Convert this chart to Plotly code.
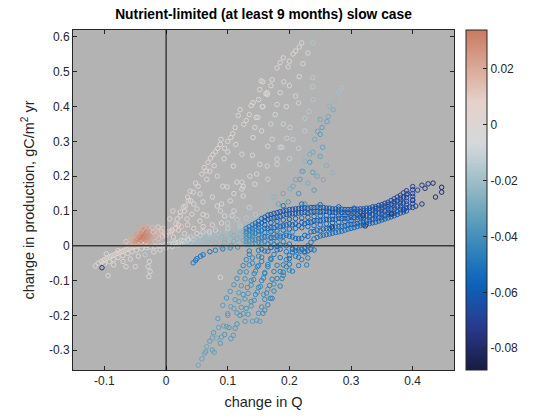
import plotly.graph_objects as go
import plotly.colors as pc
from plotly.colors import cmocean

# ---- data ----
# white band running into the origin from the lower left
white_x = [-0.110, -0.105, -0.100, -0.096, -0.092, -0.088, -0.084, -0.080, -0.076, -0.072,
           -0.068, -0.064, -0.060, -0.056, -0.052, -0.048, -0.044, -0.040, -0.036, -0.032,
           -0.100, -0.092, -0.085, -0.078, -0.070, -0.062, -0.055, -0.048, -0.040, -0.032,
           -0.025, -0.018, -0.010, -0.003, 0.004, 0.012, 0.020, 0.028, 0.036, 0.044,
           -0.094, -0.065, -0.050, -0.078, -0.097, -0.102, -0.029, -0.026, -0.028, -0.027,
           -0.115, -0.085, -0.070, -0.058, -0.045, -0.020, -0.010, 0.000, 0.010, -0.034]
white_y = [-0.050, -0.045, -0.040, -0.036, -0.032, -0.029, -0.026, -0.022, -0.019, -0.016,
           -0.013, -0.010, -0.007, -0.004, -0.002, 0.000, 0.002, 0.004, 0.003, 0.001,
           -0.052, -0.046, -0.040, -0.034, -0.028, -0.022, -0.017, -0.013, -0.009, -0.006,
           -0.004, -0.002, 0.000, 0.002, 0.004, 0.007, 0.010, 0.013, 0.016, 0.019,
           -0.086, -0.060, -0.060, -0.014, -0.023, -0.043, -0.060, -0.074, -0.089, -0.045,
           -0.058, -0.055, -0.045, -0.038, -0.030, -0.018, -0.012, -0.006, -0.002, -0.026]
white_c = [0.001, 0.002, 0.000, 0.003, 0.002, 0.004, 0.002, 0.005, 0.003, 0.006,
           0.004, 0.007, 0.005, 0.008, 0.006, 0.009, 0.007, 0.010, 0.006, 0.004,
           -0.002, 0.000, -0.001, 0.001, -0.002, 0.000, -0.001, 0.001, -0.002, 0.000,
           -0.001, 0.002, 0.000, -0.002, -0.003, -0.004, -0.003, -0.005, -0.004, -0.006,
           0.000, -0.002, 0.001, 0.003, 0.002, 0.001, -0.004, -0.005, -0.004, -0.003,
           0.000, 0.001, 0.000, -0.001, 0.000, -0.003, -0.004, -0.006, -0.008, -0.012]

# salmon blob left of the origin
red_x = [-0.060, -0.056, -0.052, -0.050, -0.049, -0.046, -0.045, -0.043, -0.041, -0.040,
         -0.038, -0.038, -0.037, -0.036, -0.035, -0.034, -0.033, -0.032, -0.030, -0.030,
         -0.028, -0.028, -0.027, -0.024, -0.024, -0.021, -0.020, -0.018, -0.016, -0.012,
         -0.012, -0.008, -0.006, -0.002, 0.004, 0.010, -0.065, -0.058, -0.052, -0.047,
         -0.042, -0.038, -0.030, -0.022]
red_y = [0.003, 0.006, 0.010, 0.004, 0.015, 0.020, 0.010, 0.026, 0.016, 0.032,
         0.038, 0.022, 0.010, 0.044, 0.028, 0.049, 0.016, 0.034, 0.040, 0.022,
         0.046, 0.010, 0.028, 0.034, 0.017, 0.040, 0.024, 0.012, 0.031, 0.038,
         0.020, 0.043, 0.028, 0.034, 0.040, 0.045, 0.012, 0.018, 0.026, 0.034,
         0.042, 0.050, 0.055, 0.052]
red_c = [0.015, 0.022, 0.025, 0.020, 0.027, 0.030, 0.028, 0.031, 0.031, 0.032,
         0.032, 0.033, 0.026, 0.030, 0.033, 0.027, 0.029, 0.031, 0.029, 0.030,
         0.025, 0.022, 0.028, 0.026, 0.024, 0.022, 0.022, 0.016, 0.018, 0.015,
         0.014, 0.012, 0.011, 0.008, 0.006, 0.004, 0.012, 0.018, 0.022, 0.024,
         0.022, 0.020, 0.018, 0.014]

# white points just above/right of the origin
origin_x = [0.006, 0.011, 0.016, 0.018, 0.023, 0.023, 0.028, 0.031, 0.034, 0.036,
            0.040, 0.039, 0.042, 0.044, 0.050, 0.052, 0.055, 0.055, 0.058, 0.060,
            0.066, 0.066, 0.071, 0.083, 0.083, 0.088, 0.099, 0.104, 0.107, 0.123,
            0.123, 0.125, 0.144, 0.147, 0.000, 0.008, 0.015, 0.025, 0.035, 0.045,
            0.060, 0.075, 0.090, 0.070, 0.050, 0.030, 0.012, -0.005, -0.013, -0.021,
            0.020, 0.062, 0.068, 0.072, 0.076, 0.080, 0.084, 0.065, 0.094, 0.100,
            0.078, 0.048, 0.035, 0.045, 0.030, 0.020, 0.060, 0.075, 0.090, 0.110]
origin_y = [0.077, 0.100, 0.063, 0.077, 0.086, 0.097, 0.111, 0.114, 0.077, 0.129,
            0.129, 0.157, 0.091, 0.154, 0.106, 0.171, 0.071, 0.149, 0.206, 0.126,
            0.086, 0.191, 0.214, 0.114, 0.200, 0.100, 0.169, 0.129, 0.086, 0.183,
            0.163, 0.143, 0.177, 0.206, 0.030, 0.040, 0.050, 0.055, 0.060, 0.050,
            0.055, 0.060, 0.065, 0.040, 0.035, 0.035, 0.025, 0.050, 0.054, 0.040,
            0.045, 0.225, 0.240, 0.252, 0.262, 0.270, 0.280, 0.215, 0.250, 0.270,
            0.230, 0.180, 0.140, 0.120, 0.100, 0.060, 0.090, 0.140, 0.120, 0.150]
origin_c = [0.002, 0.000, 0.004, 0.001, 0.000, -0.002, 0.001, -0.001, 0.003, 0.000,
            -0.002, 0.001, 0.000, -0.001, -0.003, 0.001, 0.004, -0.002, 0.002, -0.003,
            0.008, 0.000, 0.001, -0.003, -0.001, -0.002, -0.004, -0.005, -0.003, -0.005,
            -0.006, -0.007, -0.006, -0.004, 0.003, 0.006, 0.010, 0.012, 0.008, 0.005,
            0.004, 0.002, 0.000, -0.002, 0.002, 0.006, 0.008, 0.010, 0.008, 0.012,
            0.007, 0.002, 0.002, 0.001, 0.002, 0.001, 0.002, 0.001, -0.001, -0.002,
            0.001, 0.002, 0.001, 0.000, 0.002, 0.004, 0.001, -0.002, -0.003, -0.004]

# upper fan: white left edge
edge_x = [0.088, 0.089, 0.105, 0.112, 0.113, 0.117, 0.120, 0.126, 0.135, 0.138,
          0.141, 0.144, 0.146, 0.152, 0.154, 0.156, 0.157, 0.162, 0.164, 0.172,
          0.180, 0.185, 0.190, 0.191, 0.198, 0.206, 0.216, 0.220, 0.185, 0.216,
          0.222, 0.230, 0.095, 0.100, 0.108, 0.130, 0.150, 0.170, 0.200, 0.210]
edge_y = [0.291, 0.306, 0.311, 0.340, 0.291, 0.374, 0.391, 0.349, 0.377, 0.403,
          0.411, 0.340, 0.369, 0.449, 0.474, 0.400, 0.471, 0.437, 0.440, 0.477,
          0.511, 0.526, 0.540, 0.471, 0.514, 0.551, 0.571, 0.583, 0.440, 0.486,
          0.523, 0.554, 0.280, 0.300, 0.322, 0.360, 0.420, 0.460, 0.530, 0.560]
edge_c = [0.002, 0.001, 0.000, 0.002, -0.001, 0.003, 0.002, 0.000, 0.001, 0.002,
          0.003, -0.002, 0.000, 0.002, 0.003, 0.000, 0.002, 0.001, 0.002, 0.001,
          0.002, 0.003, 0.002, -0.001, 0.000, 0.002, 0.003, 0.002, -0.002, -0.003,
          -0.002, -0.004, 0.002, 0.001, 0.001, 0.002, 0.002, 0.002, 0.003, 0.002]

# upper fan: faint grey interior
mid_x = [0.164, 0.180, 0.177, 0.149, 0.141, 0.172, 0.201, 0.185, 0.152, 0.180,
         0.123, 0.109, 0.136, 0.165, 0.115, 0.092, 0.125, 0.206, 0.196, 0.188,
         0.165, 0.164, 0.180, 0.157, 0.225, 0.238, 0.238, 0.238, 0.232, 0.210,
         0.200, 0.195, 0.215, 0.140, 0.155, 0.200, 0.215, 0.225, 0.190, 0.170]
mid_y = [0.434, 0.406, 0.377, 0.369, 0.311, 0.306, 0.340, 0.283, 0.234, 0.249,
         0.263, 0.229, 0.200, 0.191, 0.183, 0.171, 0.171, 0.306, 0.309, 0.283,
         0.286, 0.229, 0.234, 0.400, 0.366, 0.420, 0.457, 0.483, 0.386, 0.430,
         0.460, 0.400, 0.410, 0.260, 0.330, 0.250, 0.280, 0.330, 0.350, 0.350]
mid_c = [-0.006, -0.008, -0.007, -0.005, -0.006, -0.009, -0.010, -0.008, -0.007, -0.009,
         -0.005, -0.006, -0.007, -0.010, -0.006, -0.004, -0.007, -0.012, -0.011, -0.010,
         -0.008, -0.009, -0.010, -0.004, -0.014, -0.016, -0.014, -0.013, -0.015, -0.008,
         -0.007, -0.006, -0.009, -0.005, -0.006, -0.012, -0.012, -0.013, -0.009, -0.008]

# upper fan: light blue right side
fan_x = [0.238, 0.274, 0.271, 0.263, 0.261, 0.250, 0.253, 0.246, 0.250, 0.241,
         0.254, 0.238, 0.233, 0.250, 0.225, 0.238, 0.220, 0.285, 0.233, 0.222,
         0.217, 0.206, 0.164, 0.182, 0.198, 0.201, 0.190, 0.175, 0.210, 0.228,
         0.265, 0.280, 0.230, 0.245, 0.260, 0.215, 0.240, 0.255, 0.270, 0.225]
fan_y = [0.583, 0.414, 0.391, 0.371, 0.357, 0.363, 0.340, 0.329, 0.320, 0.306,
         0.283, 0.269, 0.263, 0.257, 0.243, 0.211, 0.214, 0.454, 0.240, 0.214,
         0.191, 0.171, 0.126, 0.120, 0.126, 0.163, 0.150, 0.140, 0.190, 0.230,
         0.400, 0.440, 0.180, 0.200, 0.230, 0.150, 0.160, 0.190, 0.210, 0.120]
fan_c = [-0.016, -0.022, -0.028, -0.030, -0.032, -0.030, -0.034, -0.032, -0.035, -0.030,
         -0.033, -0.030, -0.028, -0.032, -0.025, -0.034, -0.030, -0.018, -0.036, -0.032,
         -0.035, -0.030, -0.020, -0.030, -0.035, -0.028, -0.030, -0.025, -0.030, -0.022,
         -0.024, -0.018, -0.028, -0.030, -0.026, -0.038, -0.035, -0.028, -0.024, -0.040]

# light blue streak just above the zero line
axis_x = [0.020, 0.030, 0.040, 0.050, 0.060, 0.070, 0.080, 0.090, 0.100, 0.110,
          0.120, 0.130, 0.140, 0.150, 0.160, 0.170, 0.180, 0.040, 0.055, 0.070,
          0.085, 0.100, 0.115, 0.130, 0.145, 0.160, 0.175, 0.050, 0.065, 0.080,
          0.095, 0.110, 0.125, 0.140, 0.155, 0.170, 0.185, 0.100, 0.115, 0.130,
          0.145, 0.150, 0.110, 0.095, 0.135, 0.160, 0.120, 0.025, 0.035, 0.015,
          0.010, 0.025, 0.045, 0.065, 0.085, 0.105, 0.125, 0.145, 0.165, 0.190,
          0.035, 0.055, 0.075, 0.095, 0.115, 0.135, 0.155, 0.175, 0.195, 0.205,
          0.060, 0.080, 0.100, 0.120, 0.140, 0.160, 0.180, 0.200, 0.105, 0.090]
axis_y = [0.002, 0.006, 0.010, 0.013, 0.016, 0.019, 0.022, 0.025, 0.028, 0.030,
          0.033, 0.036, 0.038, 0.040, 0.042, 0.045, 0.047, 0.025, 0.030, 0.034,
          0.038, 0.042, 0.047, 0.052, 0.056, 0.060, 0.064, 0.002, 0.005, 0.008,
          0.010, 0.013, 0.016, 0.018, 0.020, 0.022, 0.025, 0.065, 0.075, 0.080,
          0.090, 0.070, 0.100, 0.085, 0.110, 0.100, 0.060, 0.015, 0.020, 0.010,
          0.012, 0.018, 0.022, 0.026, 0.030, 0.034, 0.040, 0.045, 0.050, 0.055,
          0.008, 0.012, 0.015, 0.018, 0.021, 0.024, 0.028, 0.032, 0.036, 0.040,
          0.040, 0.045, 0.050, 0.055, 0.064, 0.070, 0.076, 0.080, 0.000, -0.004]
axis_c = [-0.012, -0.014, -0.016, -0.018, -0.020, -0.022, -0.020, -0.024, -0.022, -0.026,
          -0.024, -0.028, -0.026, -0.030, -0.028, -0.032, -0.030, -0.010, -0.012, -0.014,
          -0.016, -0.018, -0.020, -0.022, -0.024, -0.026, -0.028, -0.020, -0.022, -0.024,
          -0.026, -0.028, -0.030, -0.032, -0.034, -0.036, -0.038, -0.012, -0.014, -0.016,
          -0.014, -0.018, -0.008, -0.006, -0.012, -0.018, -0.016, -0.006, -0.008, -0.004,
          -0.014, -0.016, -0.018, -0.020, -0.022, -0.024, -0.026, -0.028, -0.032, -0.036,
          -0.018, -0.020, -0.022, -0.024, -0.026, -0.028, -0.032, -0.036, -0.040, -0.042,
          -0.008, -0.010, -0.012, -0.016, -0.020, -0.024, -0.028, -0.032, -0.032, -0.030]

# lower fan below the zero line
low_x = [0.052, 0.058, 0.064, 0.071, 0.077, 0.084, 0.092, 0.098, 0.104, 0.110,
         0.115, 0.120, 0.125, 0.130, 0.135, 0.075, 0.088, 0.095, 0.102, 0.109,
         0.115, 0.120, 0.128, 0.130, 0.138, 0.145, 0.150, 0.155, 0.160, 0.165,
         0.170, 0.175, 0.140, 0.147, 0.152, 0.157, 0.160, 0.165, 0.169, 0.172,
         0.175, 0.180, 0.185, 0.190, 0.195, 0.200, 0.205, 0.217, 0.110, 0.118,
         0.125, 0.132, 0.138, 0.143, 0.148, 0.155, 0.140, 0.150, 0.160, 0.185,
         0.195, 0.175, 0.165, 0.158, 0.125, 0.100, 0.093, 0.082, 0.066, 0.210,
         0.225, 0.235, 0.220, 0.200, 0.190, 0.044, 0.050, 0.060, 0.071, 0.092,
         0.048, 0.056, 0.080, 0.104, 0.116, 0.088, 0.170, 0.180, 0.205, 0.230]
low_y = [-0.343, -0.325, -0.305, -0.274, -0.250, -0.209, -0.171, -0.150, -0.131, -0.112,
         -0.094, -0.075, -0.057, -0.040, -0.025, -0.300, -0.280, -0.255, -0.235, -0.257,
         -0.225, -0.200, -0.217, -0.180, -0.160, -0.140, -0.120, -0.100, -0.080, -0.060,
         -0.040, -0.025, -0.217, -0.214, -0.217, -0.194, -0.185, -0.170, -0.151, -0.151,
         -0.130, -0.094, -0.074, -0.055, -0.040, -0.028, -0.018, -0.017, -0.180, -0.160,
         -0.140, -0.120, -0.100, -0.080, -0.060, -0.045, -0.050, -0.030, -0.015, -0.010,
         -0.060, -0.110, -0.125, -0.140, -0.195, -0.200, -0.230, -0.265, -0.290, -0.030,
         -0.020, -0.010, -0.040, -0.070, -0.085, -0.049, -0.037, -0.026, -0.017, -0.009,
         -0.042, -0.030, -0.013, -0.006, -0.004, -0.091, -0.005, -0.002, -0.010, -0.015]
low_c = [-0.030, -0.032, -0.034, -0.035, -0.036, -0.035, -0.036, -0.038, -0.037, -0.038,
         -0.040, -0.042, -0.044, -0.045, -0.046, -0.034, -0.036, -0.038, -0.037, -0.036,
         -0.038, -0.040, -0.036, -0.040, -0.041, -0.042, -0.043, -0.044, -0.045, -0.046,
         -0.047, -0.048, -0.034, -0.036, -0.035, -0.040, -0.042, -0.044, -0.045, -0.046,
         -0.044, -0.046, -0.047, -0.048, -0.048, -0.050, -0.050, -0.048, -0.034, -0.036,
         -0.038, -0.040, -0.042, -0.044, -0.046, -0.048, -0.042, -0.045, -0.048, -0.050,
         -0.044, -0.042, -0.040, -0.038, -0.036, -0.034, -0.032, -0.030, -0.030, -0.048,
         -0.050, -0.052, -0.046, -0.042, -0.044, -0.048, -0.050, -0.052, -0.050, -0.048,
         -0.050, -0.050, -0.046, -0.042, -0.040, -0.006, -0.050, -0.052, -0.052, -0.054]

# dense upper part of the lower fan, read row by row
fill_x = [0.135, 0.150, 0.165, 0.180, 0.195, 0.210, 0.225, 0.240,
          0.140, 0.155, 0.170, 0.185, 0.200, 0.215, 0.230,
          0.135, 0.150, 0.165, 0.180, 0.200, 0.215, 0.228,
          0.130, 0.145, 0.160, 0.175, 0.190, 0.205,
          0.128, 0.142, 0.158, 0.172, 0.188,
          0.122, 0.138, 0.153, 0.168, 0.185,
          0.118, 0.133, 0.148, 0.163,
          0.112, 0.128, 0.143, 0.160,
          0.105, 0.122, 0.138, 0.155,
          0.100, 0.115, 0.133, 0.150,
          0.085, 0.098, 0.112,
          0.075, 0.090, 0.105,
          0.062, 0.078]
fill_y = [-0.015, -0.013, -0.016, -0.012, -0.017, -0.014, -0.016, -0.012,
          -0.035, -0.033, -0.036, -0.034, -0.037, -0.033, -0.035,
          -0.055, -0.057, -0.054, -0.056, -0.053, -0.057, -0.055,
          -0.075, -0.073, -0.077, -0.074, -0.076, -0.073,
          -0.095, -0.097, -0.093, -0.096, -0.094,
          -0.115, -0.113, -0.117, -0.114, -0.116,
          -0.135, -0.137, -0.133, -0.136,
          -0.155, -0.153, -0.157, -0.154,
          -0.175, -0.177, -0.173, -0.176,
          -0.195, -0.193, -0.197, -0.194,
          -0.235, -0.232, -0.237,
          -0.265, -0.262, -0.267,
          -0.310, -0.306]
fill_c = [-0.046, -0.048, -0.050, -0.052, -0.050, -0.052, -0.054, -0.052,
          -0.044, -0.046, -0.048, -0.050, -0.052, -0.050, -0.048,
          -0.042, -0.044, -0.046, -0.048, -0.050, -0.048, -0.046,
          -0.040, -0.042, -0.044, -0.046, -0.048, -0.046,
          -0.040, -0.042, -0.044, -0.046, -0.044,
          -0.038, -0.040, -0.042, -0.044, -0.046,
          -0.036, -0.038, -0.040, -0.042,
          -0.036, -0.038, -0.040, -0.042,
          -0.034, -0.036, -0.038, -0.040,
          -0.034, -0.036, -0.038, -0.040,
          -0.032, -0.034, -0.036,
          -0.032, -0.034, -0.036,
          -0.030, -0.032]

# dense dark blue band, read column by column
band_x = [0.13, 0.14, 0.15, 0.16, 0.17, 0.18, 0.19, 0.20, 0.21, 0.22,
          0.23, 0.24, 0.25, 0.26, 0.27, 0.28, 0.29, 0.30, 0.31, 0.32,
          0.33, 0.34, 0.35, 0.36, 0.37, 0.38, 0.39, 0.40]
band_top = [0.050, 0.060, 0.070, 0.082, 0.090, 0.095, 0.100, 0.104, 0.106, 0.108,
            0.108, 0.110, 0.110, 0.108, 0.106, 0.105, 0.104, 0.104, 0.105, 0.106,
            0.108, 0.112, 0.118, 0.125, 0.135, 0.145, 0.158, 0.170]
band_r2 = [0.042, 0.050, 0.060, 0.072, 0.079, 0.082, 0.088, 0.091, 0.093, 0.095,
           0.094, 0.098, 0.097, 0.099, 0.096, 0.097, 0.095, 0.097, 0.097, 0.100,
           0.101, 0.107, 0.111, 0.119, 0.127, 0.137, 0.147, 0.161]
band_upper = [0.036, 0.042, 0.052, 0.060, 0.066, 0.070, 0.074, 0.076, 0.078, 0.080,
              0.082, 0.084, 0.086, 0.087, 0.087, 0.088, 0.088, 0.088, 0.090, 0.092,
              0.095, 0.100, 0.105, 0.112, 0.120, 0.128, 0.138, 0.150]
band_r5 = [0.028, 0.034, 0.042, 0.050, 0.052, 0.057, 0.059, 0.063, 0.063, 0.067,
           0.067, 0.072, 0.072, 0.076, 0.076, 0.079, 0.078, 0.081, 0.082, 0.086,
           0.087, 0.094, 0.097, 0.105, 0.111, 0.121, 0.128, 0.142]
band_lower = [0.020, 0.026, 0.032, 0.038, 0.040, 0.042, 0.045, 0.048, 0.050, 0.052,
              0.055, 0.058, 0.060, 0.063, 0.066, 0.068, 0.070, 0.072, 0.075, 0.078,
              0.082, 0.086, 0.090, 0.096, 0.104, 0.112, 0.120, 0.132]
band_r7 = [0.012, 0.017, 0.020, 0.026, 0.024, 0.028, 0.027, 0.027, 0.021, 0.021,
           0.027, 0.041, 0.043, 0.049, 0.050, 0.055, 0.057, 0.062, 0.064, 0.070,
           0.072, 0.078, 0.081, 0.089, 0.094, 0.104, 0.109, 0.122]
band_bottom = [0.004, 0.006, 0.010, 0.012, 0.010, 0.012, 0.012, 0.005, -0.005, -0.010,
               0.000, 0.020, 0.028, 0.032, 0.036, 0.040, 0.045, 0.050, 0.055, 0.060,
               0.064, 0.068, 0.074, 0.080, 0.086, 0.094, 0.100, 0.110]
band_top_c = [-0.046, -0.050, -0.055, -0.060, -0.062, -0.062, -0.063, -0.062, -0.063, -0.064,
              -0.063, -0.062, -0.063, -0.062, -0.061, -0.062, -0.061, -0.062, -0.063, -0.062,
              -0.064, -0.065, -0.066, -0.066, -0.068, -0.068, -0.070, -0.070]
band_r2_c = [-0.044, -0.048, -0.053, -0.058, -0.060, -0.060, -0.061, -0.061, -0.062, -0.062,
             -0.061, -0.061, -0.061, -0.061, -0.060, -0.061, -0.060, -0.061, -0.062, -0.061,
             -0.062, -0.064, -0.065, -0.065, -0.067, -0.067, -0.069, -0.069]
band_upper_c = [-0.042, -0.046, -0.051, -0.056, -0.058, -0.058, -0.059, -0.060, -0.060, -0.059,
                -0.060, -0.060, -0.059, -0.060, -0.060, -0.059, -0.060, -0.060, -0.061, -0.060,
                -0.061, -0.062, -0.063, -0.064, -0.065, -0.066, -0.067, -0.068]
band_r5_c = [-0.040, -0.044, -0.049, -0.053, -0.055, -0.055, -0.056, -0.057, -0.058, -0.057,
             -0.058, -0.058, -0.057, -0.058, -0.058, -0.058, -0.058, -0.059, -0.060, -0.059,
             -0.060, -0.061, -0.062, -0.063, -0.064, -0.065, -0.066, -0.067]
band_lower_c = [-0.038, -0.042, -0.047, -0.050, -0.052, -0.052, -0.053, -0.054, -0.055, -0.055,
                -0.056, -0.056, -0.055, -0.056, -0.057, -0.056, -0.057, -0.058, -0.058, -0.058,
                -0.059, -0.060, -0.061, -0.062, -0.063, -0.064, -0.065, -0.066]
band_r7_c = [-0.036, -0.040, -0.045, -0.047, -0.049, -0.050, -0.051, -0.052, -0.053, -0.054,
             -0.054, -0.053, -0.053, -0.054, -0.054, -0.054, -0.055, -0.056, -0.056, -0.057,
             -0.057, -0.058, -0.059, -0.061, -0.062, -0.063, -0.064, -0.065]
band_bottom_c = [-0.034, -0.038, -0.042, -0.045, -0.046, -0.047, -0.048, -0.050, -0.052, -0.053,
                 -0.052, -0.050, -0.051, -0.052, -0.052, -0.053, -0.054, -0.054, -0.055, -0.056,
                 -0.056, -0.057, -0.058, -0.060, -0.061, -0.062, -0.063, -0.064]

# second, offset set of band columns
gap_x = [0.135, 0.145, 0.155, 0.165, 0.175, 0.185, 0.195, 0.205, 0.215, 0.225,
         0.235, 0.245, 0.255, 0.265, 0.275, 0.285, 0.295, 0.305, 0.315, 0.325,
         0.335, 0.345, 0.355, 0.365, 0.375, 0.385]
gap_top = [0.055, 0.065, 0.078, 0.088, 0.093, 0.098, 0.102, 0.105, 0.107, 0.109,
           0.110, 0.111, 0.110, 0.108, 0.106, 0.105, 0.104, 0.105, 0.106, 0.108,
           0.112, 0.116, 0.122, 0.130, 0.140, 0.152]
gap_hi = [0.046, 0.056, 0.066, 0.076, 0.080, 0.084, 0.090, 0.092, 0.094, 0.096,
          0.097, 0.098, 0.098, 0.097, 0.096, 0.096, 0.096, 0.097, 0.098, 0.100,
          0.104, 0.108, 0.114, 0.120, 0.130, 0.140]
gap_mid = [0.030, 0.036, 0.044, 0.050, 0.052, 0.056, 0.060, 0.060, 0.058, 0.064,
           0.068, 0.072, 0.074, 0.075, 0.076, 0.078, 0.079, 0.081, 0.083, 0.087,
           0.090, 0.094, 0.100, 0.106, 0.114, 0.123]
gap_lo = [0.014, 0.018, 0.024, 0.026, 0.024, 0.028, 0.030, 0.025, 0.020, 0.030,
          0.040, 0.045, 0.048, 0.050, 0.054, 0.056, 0.060, 0.062, 0.066, 0.072,
          0.076, 0.080, 0.086, 0.092, 0.098, 0.106]
gap_bottom = [0.004, 0.006, 0.008, 0.006, 0.004, 0.002, 0.000, -0.008, -0.012, -0.006,
              0.010, 0.024, 0.030, 0.034, 0.038, 0.042, 0.048, 0.052, 0.058, 0.062,
              0.066, 0.071, 0.077, 0.083, 0.090, 0.097]
gap_top_c = [-0.048, -0.053, -0.058, -0.062, -0.062, -0.063, -0.063, -0.064, -0.063, -0.063,
             -0.062, -0.062, -0.062, -0.061, -0.062, -0.062, -0.062, -0.062, -0.063, -0.063,
             -0.064, -0.066, -0.066, -0.067, -0.068, -0.070]
gap_hi_c = [-0.046, -0.051, -0.056, -0.059, -0.060, -0.060, -0.061, -0.061, -0.062, -0.061,
            -0.062, -0.061, -0.062, -0.061, -0.060, -0.061, -0.062, -0.061, -0.062, -0.063,
            -0.063, -0.064, -0.065, -0.066, -0.067, -0.068]
gap_mid_c = [-0.042, -0.046, -0.051, -0.054, -0.055, -0.056, -0.056, -0.057, -0.057, -0.058,
             -0.058, -0.058, -0.058, -0.058, -0.058, -0.059, -0.059, -0.060, -0.060, -0.060,
             -0.061, -0.062, -0.063, -0.064, -0.065, -0.066]
gap_lo_c = [-0.038, -0.042, -0.046, -0.049, -0.050, -0.051, -0.052, -0.053, -0.054, -0.054,
            -0.055, -0.055, -0.056, -0.056, -0.056, -0.057, -0.057, -0.058, -0.058, -0.059,
            -0.060, -0.061, -0.062, -0.063, -0.064, -0.065]
gap_bottom_c = [-0.034, -0.038, -0.041, -0.044, -0.045, -0.046, -0.048, -0.050, -0.051, -0.052,
                -0.051, -0.051, -0.052, -0.052, -0.053, -0.053, -0.054, -0.055, -0.055, -0.056,
                -0.057, -0.058, -0.059, -0.061, -0.062, -0.063]

# stray dark points (band tail and outliers)
tail_x = [0.433, 0.447, 0.447, 0.437, 0.415, 0.415, 0.405, 0.395, 0.386, 0.400,
          0.420, 0.269, 0.323, 0.319, 0.366, 0.190, 0.220, 0.250, 0.280, 0.305,
          0.155, 0.170, 0.408, 0.392, 0.425, -0.104]
tail_y = [0.180, 0.168, 0.154, 0.140, 0.174, 0.120, 0.114, 0.111, 0.103, 0.130,
          0.165, 0.054, 0.057, 0.086, 0.091, 0.115, 0.120, 0.118, 0.112, 0.108,
          -0.010, -0.005, 0.160, 0.150, 0.178, -0.063]
tail_c = [-0.080, -0.082, -0.080, -0.078, -0.072, -0.074, -0.072, -0.070, -0.068, -0.070,
          -0.074, -0.078, -0.078, -0.076, -0.076, -0.052, -0.054, -0.055, -0.056, -0.056,
          -0.050, -0.052, -0.068, -0.066, -0.074, -0.075]

x_ticks = [-0.1, 0, 0.1, 0.2, 0.3, 0.4]
x_tick_labels = ["-0.1", "0", "0.1", "0.2", "0.3", "0.4"]
y_ticks = [-0.3, -0.2, -0.1, 0, 0.1, 0.2, 0.3, 0.4, 0.5, 0.6]
y_tick_labels = ["-0.3", "-0.2", "-0.1", "0", "0.1", "0.2", "0.3", "0.4", "0.5", "0.6"]
c_ticks = [-0.08, -0.06, -0.04, -0.02, 0, 0.02]
c_tick_labels = ["-0.08", "-0.06", "-0.04", "-0.02", "0", "0.02"]

CMIN, CMAX = -0.0878, 0.0339
FONT = "Liberation Sans, Arial, sans-serif"
INK = "#262626"


def balance_part():
    # balance map centred on zero, cut off at CMAX like the reference bar
    full = pc.make_colorscale(cmocean.balance)
    top = (CMAX - CMIN) / (2 * -CMIN)
    stops = [i / 24 for i in range(25)]
    cols = pc.sample_colorscale(full, [s * top for s in stops])
    return [[s, c] for s, c in zip(stops, cols)]


def main():
    groups = [
        (white_x, white_y, white_c),
        (red_x, red_y, red_c),
        (origin_x, origin_y, origin_c),
        (edge_x, edge_y, edge_c),
        (mid_x, mid_y, mid_c),
        (fan_x, fan_y, fan_c),
        (axis_x, axis_y, axis_c),
        (low_x, low_y, low_c),
        (fill_x, fill_y, fill_c),
        (band_x, band_bottom, band_bottom_c),
        (gap_x, gap_bottom, gap_bottom_c),
        (band_x, band_r7, band_r7_c),
        (gap_x, gap_lo, gap_lo_c),
        (band_x, band_lower, band_lower_c),
        (gap_x, gap_mid, gap_mid_c),
        (band_x, band_r5, band_r5_c),
        (band_x, band_upper, band_upper_c),
        (gap_x, gap_hi, gap_hi_c),
        (band_x, band_r2, band_r2_c),
        (gap_x, gap_top, gap_top_c),
        (band_x, band_top, band_top_c),
        (tail_x, tail_y, tail_c),
    ]
    for gx, gy, gc in groups:
        assert len(gx) == len(gy) == len(gc), (len(gx), len(gy), len(gc))

    fig = go.Figure()
    for gx, gy, gc in groups:
        fig.add_trace(go.Scatter(
            x=gx, y=gy, mode="markers", showlegend=False, hoverinfo="skip",
            marker=dict(symbol="circle-open", size=4.5, color=gc,
                        coloraxis="coloraxis", line=dict(width=1)),
        ))

    fig.add_shape(type="line", xref="x", yref="paper", x0=0, x1=0, y0=0, y1=1,
                  line=dict(color="black", width=1), layer="above")
    fig.add_shape(type="line", xref="paper", yref="y", x0=0, x1=1, y0=0, y1=0,
                  line=dict(color="#3a3a3a", width=1.5), layer="above")

    axis_style = dict(showgrid=False, zeroline=False, showline=True, mirror="ticks",
                      linecolor=INK, linewidth=1, ticks="inside", ticklen=4,
                      tickcolor=INK, tickfont=dict(size=12, color=INK, family=FONT))

    fig.update_layout(
        width=560, height=420,
        margin=dict(l=73, r=106, t=30, b=48),
        paper_bgcolor="white", plot_bgcolor="#b3b3b3",
        font=dict(family=FONT, color=INK),
        hovermode=False,
        title=dict(text="<b>Nutrient-limited (at least 9 months) slow case</b>",
                   x=0.5, xref="paper", xanchor="center",
                   y=0.966, yref="container", yanchor="middle",
                   font=dict(size=13.8, color="black", family=FONT)),
        xaxis=dict(range=[-0.151, 0.467], tickvals=x_ticks, ticktext=x_tick_labels,
                   title=dict(text="change in Q", font=dict(size=14.5, color=INK), standoff=9),
                   **axis_style),
        yaxis=dict(range=[-0.357, 0.62], tickvals=y_ticks, ticktext=y_tick_labels,
                   title=dict(text="change in production, gC/m<sup>2</sup> yr",
                              font=dict(size=14.5, color=INK), standoff=10),
                   **axis_style),
        coloraxis=dict(
            cmin=CMIN, cmax=CMAX, colorscale=balance_part(),
            colorbar=dict(thickness=21, thicknessmode="pixels", len=1, lenmode="fraction",
                          x=1.031, xanchor="left", y=0.5, yanchor="middle",
                          xpad=0, ypad=0,
                          outlinecolor=INK, outlinewidth=1,
                          tickvals=c_ticks, ticktext=c_tick_labels,
                          ticks="inside", ticklen=4, tickcolor=INK,
                          tickfont=dict(size=12, color=INK, family=FONT)),
        ),
    )
    # drop the browser's default 8px body margin so the figure sits at the page corner
    fig.write_html("out.html", config={"displayModeBar": False},
                   post_script="document.body.style.margin = '0';")


main()
